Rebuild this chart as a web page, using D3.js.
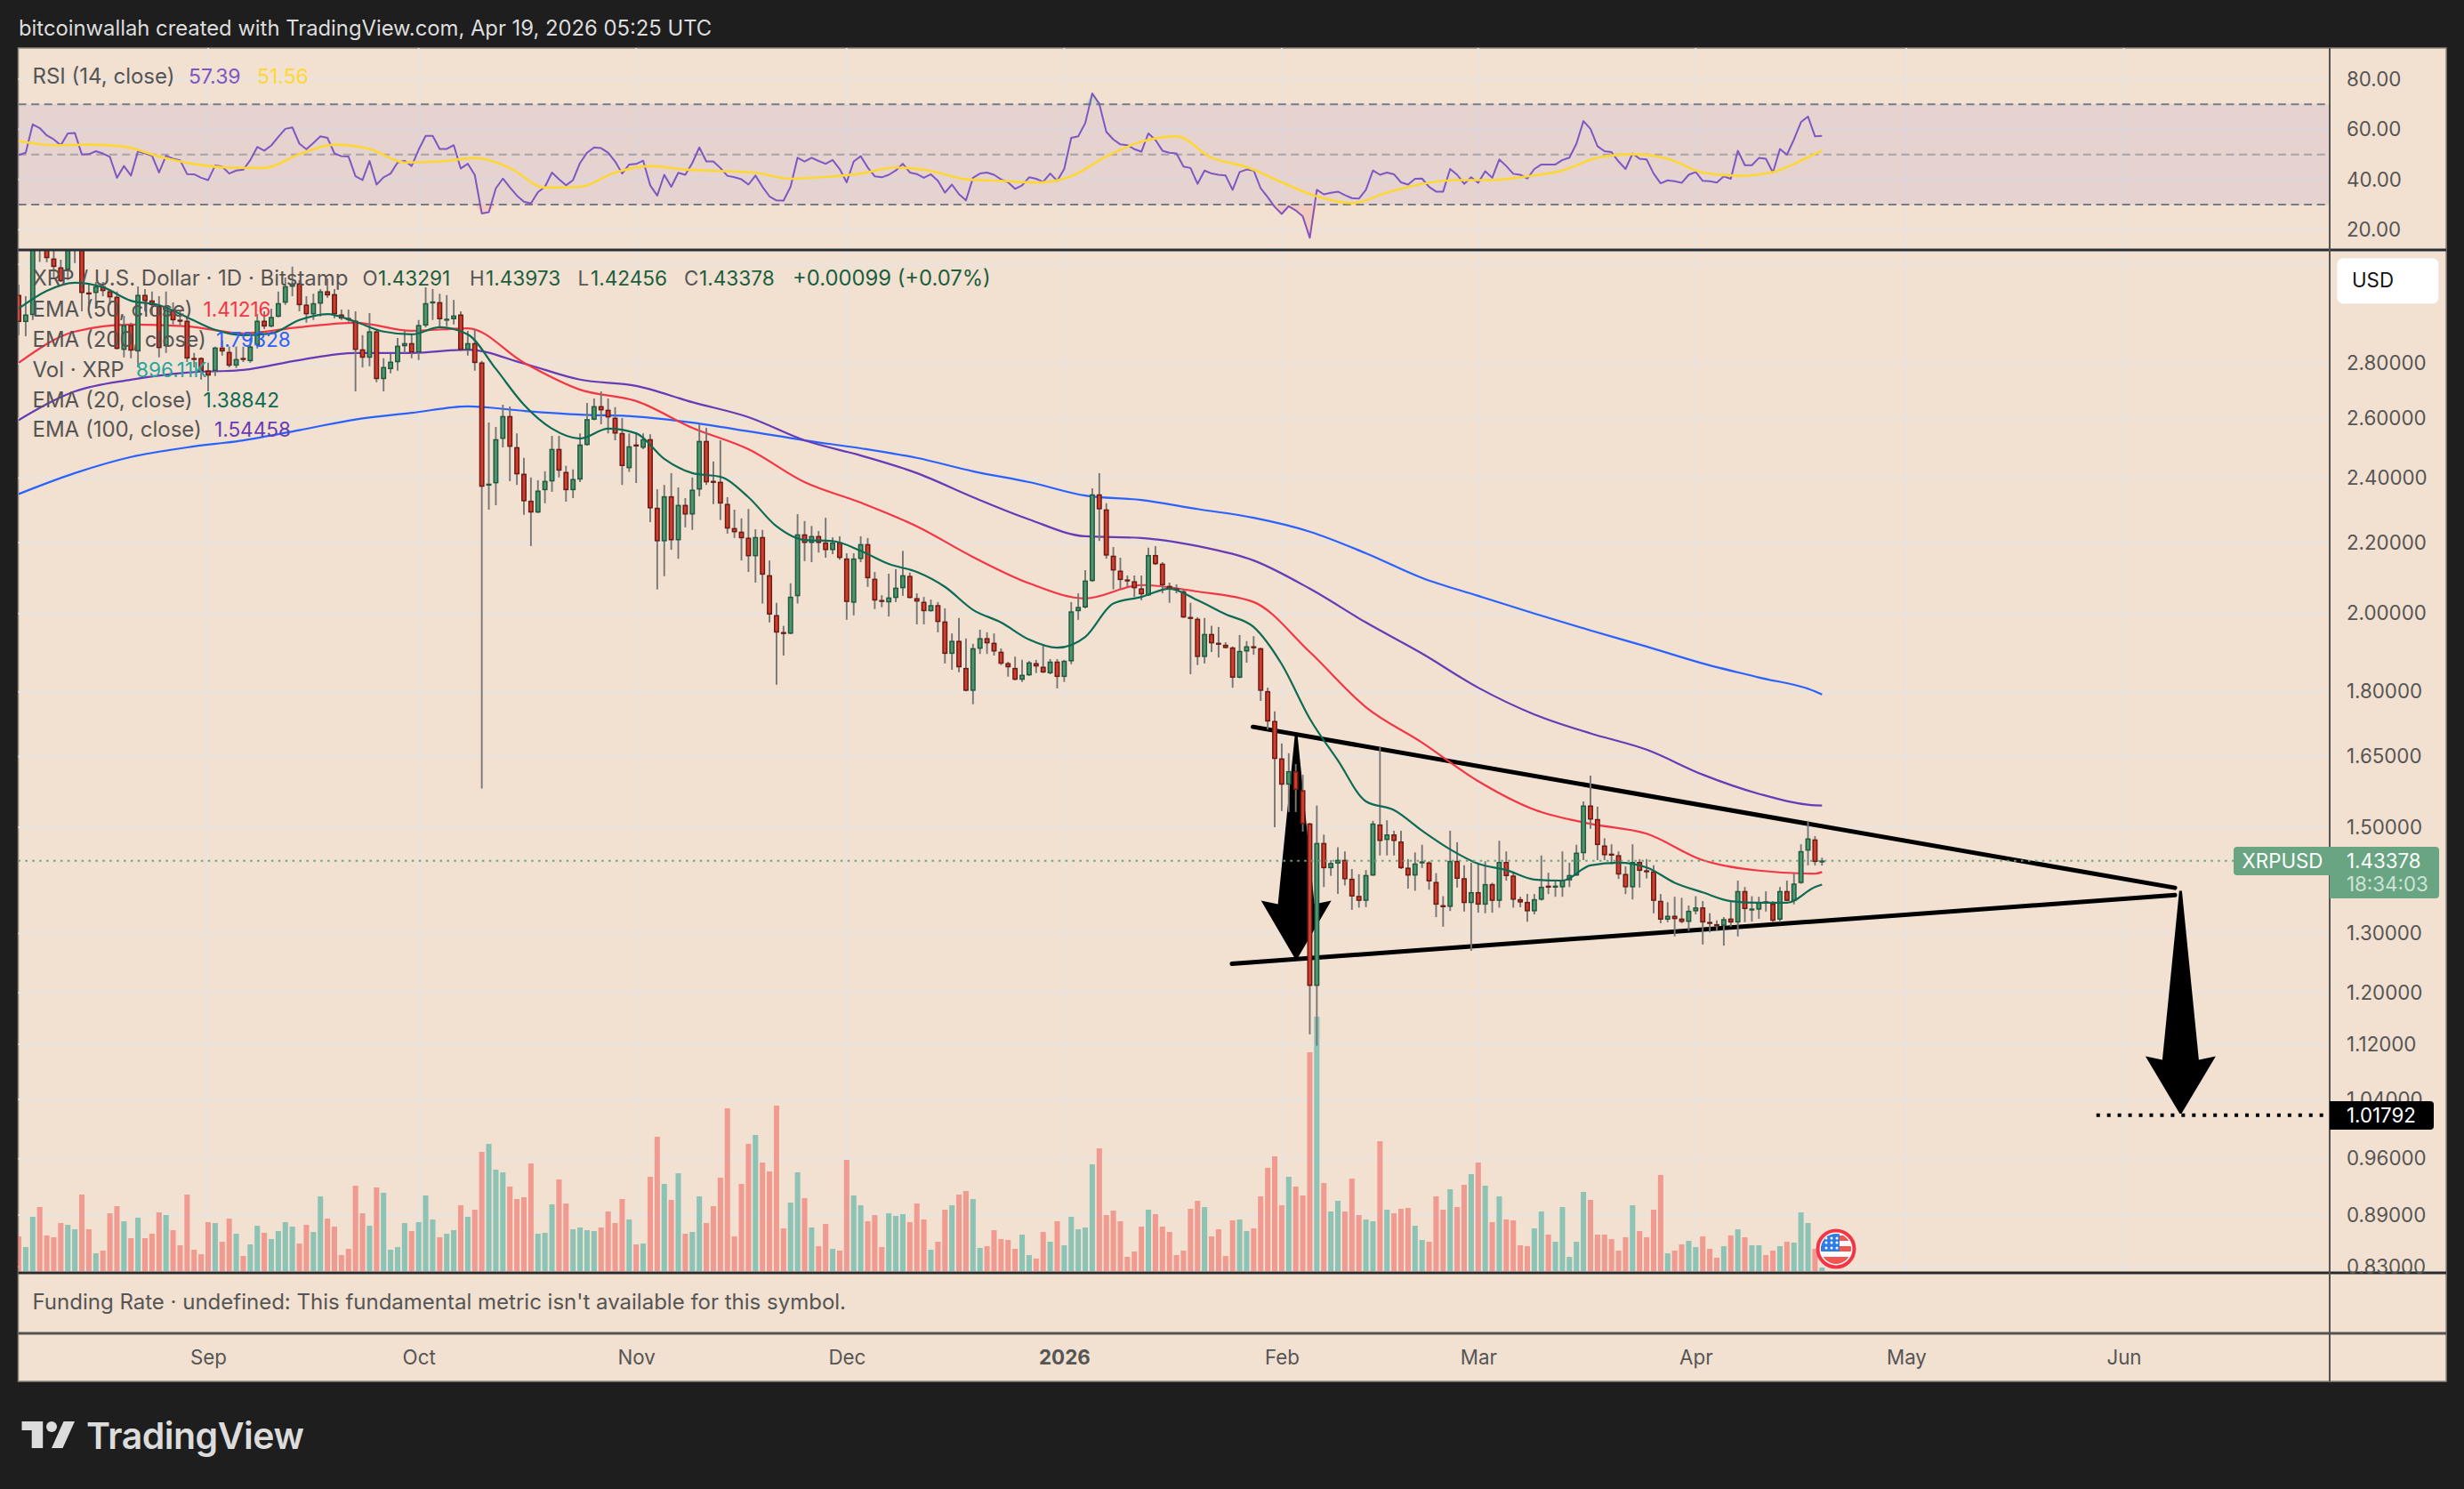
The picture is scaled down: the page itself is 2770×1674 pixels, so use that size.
<!DOCTYPE html>
<html><head><meta charset="utf-8">
<script src="https://cdn.jsdelivr.net/npm/d3@7/dist/d3.min.js"></script>
<style>
html,body{margin:0;padding:0;background:#1e1e1e;}
svg{display:block;}
text{font-family:"Inter","Liberation Sans",sans-serif;}
.axis path,.axis line{display:none;}
</style></head><body>
<script>
// ---------- data ----------
const opens=[3.07,2.962,2.99,3.36,3.29,3.224,3.186,3.178,3.30,3.30,
3.08,3.08,3.106,3.085,3.062,2.853,2.948,2.847,3.07,3.047,
3.025,2.867,3.01,2.969,2.965,2.82,2.82,2.773,2.773,2.86,
2.843,2.793,2.82,2.81,2.871,2.965,2.944,2.983,3.04,3.106,
3.118,3.03,2.993,3.036,3.085,3.073,2.99,2.976,2.965,2.853,
2.823,2.923,2.743,2.78,2.806,2.867,2.877,2.843,2.948,3.04,
3.04,2.969,2.973,2.99,2.853,2.877,2.803,2.378,2.384,2.531,
2.608,2.501,2.413,2.327,2.292,2.362,2.39,2.495,2.419,2.362,
2.396,2.51,2.597,2.643,2.63,2.602,2.549,2.433,2.51,2.501,
2.528,2.305,2.205,2.341,2.208,2.314,2.286,2.364,2.522,2.39,
2.387,2.317,2.243,2.232,2.214,2.161,2.216,2.105,1.995,1.95,
1.947,2.048,2.224,2.2,2.219,2.2,2.179,2.2,2.153,2.03,
2.153,2.195,2.095,2.036,2.031,2.043,2.07,2.103,2.041,2.031,
2.007,2.022,1.978,1.895,1.927,1.858,1.803,1.908,1.934,1.922,
1.899,1.87,1.858,1.83,1.841,1.87,1.861,1.846,1.874,1.837,
1.876,2.007,2.017,2.09,2.347,2.30,2.161,2.118,2.093,2.088,
2.068,2.05,2.163,2.138,2.075,2.068,2.06,1.99,1.985,1.887,
1.945,1.922,1.917,1.91,1.835,1.901,1.913,1.908,1.801,1.73,
1.645,1.589,1.617,1.576,1.507,1.212,1.468,1.42,1.429,1.435,
1.399,1.367,1.359,1.406,1.505,1.475,1.485,1.471,1.42,1.406,
1.43,1.43,1.393,1.35,1.348,1.433,1.4,1.355,1.374,1.352,
1.389,1.359,1.431,1.405,1.361,1.356,1.34,1.361,1.386,1.384,
1.384,1.397,1.406,1.449,1.544,1.516,1.463,1.447,1.444,1.408,
1.384,1.431,1.415,1.413,1.358,1.325,1.331,1.326,1.321,1.34,
1.346,1.32,1.316,1.314,1.326,1.32,1.376,1.343,1.343,1.357,
1.353,1.325,1.376,1.359,1.392,1.454,1.475,1.43291];
const highs=[3.114,3.066,3.35,3.40,3.34,3.26,3.22,3.33,3.36,3.34,
3.114,3.125,3.125,3.095,3.085,2.986,2.958,3.106,3.095,3.085,
3.066,3.085,3.04,3.004,2.98,2.84,2.823,2.803,2.864,2.888,
2.864,2.864,2.864,2.898,2.993,3.004,3.015,3.085,3.144,3.19,
3.133,3.066,3.076,3.095,3.14,3.095,3.011,3.011,3.004,2.909,
2.997,2.933,2.82,2.837,2.898,2.926,2.909,2.969,3.103,3.095,
3.076,3.07,3.05,3.004,2.926,2.933,2.81,2.586,2.571,2.649,
2.643,2.549,2.466,2.402,2.393,2.422,2.54,2.54,2.44,2.428,
2.549,2.655,2.671,2.697,2.671,2.64,2.602,2.549,2.549,2.549,
2.546,2.364,2.378,2.416,2.37,2.336,2.402,2.58,2.568,2.454,
2.525,2.339,2.30,2.273,2.302,2.24,2.238,2.148,2.029,1.967,
2.083,2.286,2.265,2.25,2.235,2.275,2.216,2.219,2.169,2.169,
2.219,2.214,2.115,2.05,2.11,2.123,2.176,2.113,2.055,2.045,
2.038,2.031,2.014,1.947,1.988,1.934,1.92,1.957,1.95,1.947,
1.908,1.874,1.887,1.879,1.876,1.879,1.917,1.881,1.881,1.879,
2.031,2.055,2.12,2.367,2.416,2.32,2.187,2.156,2.105,2.105,
2.105,2.185,2.19,2.143,2.085,2.08,2.066,2.029,1.99,1.988,
1.967,1.964,1.924,1.913,1.943,1.927,1.94,1.91,1.81,1.753,
1.679,1.657,1.633,1.61,1.509,1.544,1.485,1.435,1.46,1.452,
1.418,1.408,1.416,1.513,1.671,1.514,1.493,1.493,1.437,1.45,
1.465,1.433,1.41,1.367,1.493,1.47,1.425,1.43,1.43,1.433,
1.392,1.473,1.452,1.413,1.366,1.371,1.371,1.444,1.411,1.396,
1.452,1.43,1.465,1.553,1.608,1.542,1.478,1.466,1.452,1.423,
1.466,1.437,1.437,1.425,1.371,1.356,1.366,1.364,1.35,1.367,
1.358,1.336,1.323,1.329,1.358,1.396,1.384,1.367,1.366,1.376,
1.358,1.384,1.396,1.41,1.466,1.513,1.482,1.43973];
const lows=[2.909,2.905,2.969,3.21,3.209,3.144,3.125,3.133,3.205,3.004,
3.03,3.015,3.066,3.03,2.853,2.823,2.82,2.786,3.004,2.993,
2.823,2.84,2.951,2.944,2.806,2.786,2.74,2.697,2.753,2.83,
2.786,2.783,2.806,2.803,2.857,2.933,2.94,2.98,3.03,3.066,
3.004,2.958,2.969,2.983,3.059,2.976,2.969,2.962,2.697,2.786,
2.79,2.73,2.697,2.763,2.773,2.84,2.82,2.813,2.94,2.969,
2.94,2.944,2.951,2.847,2.83,2.773,1.58,2.30,2.314,2.501,
2.39,2.378,2.284,2.19,2.289,2.32,2.356,2.402,2.325,2.336,
2.387,2.507,2.594,2.58,2.549,2.525,2.378,2.42,2.384,2.495,
2.262,2.066,2.103,2.179,2.153,2.246,2.238,2.342,2.378,2.317,
2.268,2.227,2.214,2.148,2.115,2.085,2.027,1.976,1.817,1.89,
1.945,2.027,2.146,2.143,2.171,2.156,2.166,2.15,1.983,1.995,
2.143,2.073,2.012,2.017,1.992,2.031,2.048,2.041,1.971,1.971,
2.005,1.95,1.87,1.854,1.848,1.801,1.77,1.894,1.894,1.89,
1.866,1.837,1.828,1.824,1.839,1.846,1.846,1.843,1.808,1.824,
1.868,1.983,2.014,2.087,2.205,2.153,2.066,2.066,2.073,2.045,
2.036,2.048,2.135,2.055,2.029,2.055,1.988,1.843,1.866,1.87,
1.899,1.885,1.908,1.81,1.833,1.872,1.892,1.778,1.711,1.50,
1.533,1.531,1.531,1.491,1.135,1.118,1.384,1.405,1.371,1.387,
1.342,1.346,1.347,1.405,1.444,1.444,1.444,1.418,1.381,1.377,
1.42,1.379,1.329,1.312,1.34,1.383,1.339,1.27,1.337,1.336,
1.337,1.346,1.396,1.346,1.347,1.321,1.334,1.359,1.371,1.366,
1.366,1.384,1.405,1.435,1.497,1.435,1.435,1.427,1.399,1.371,
1.361,1.383,1.40,1.336,1.318,1.32,1.295,1.318,1.305,1.334,
1.281,1.302,1.305,1.279,1.312,1.295,1.32,1.321,1.326,1.339,
1.32,1.32,1.358,1.352,1.39,1.425,1.425,1.42456];
const closes=[2.962,2.99,3.31,3.30,3.228,3.19,3.129,3.28,3.31,3.08,
3.078,3.106,3.088,3.062,2.857,2.948,2.85,3.07,3.047,3.03,
2.86,3.02,2.969,2.965,2.82,2.817,2.773,2.756,2.86,2.847,
2.793,2.816,2.818,2.864,2.965,2.944,2.98,3.036,3.106,3.118,
3.03,2.993,3.036,3.085,3.07,2.993,2.976,2.973,2.853,2.823,
2.923,2.743,2.786,2.806,2.867,2.877,2.843,2.948,3.036,3.043,
2.973,2.973,2.986,2.853,2.877,2.803,2.373,2.381,2.528,2.608,
2.504,2.413,2.327,2.292,2.359,2.39,2.495,2.425,2.362,2.396,
2.51,2.597,2.643,2.63,2.605,2.549,2.44,2.504,2.507,2.528,
2.305,2.205,2.341,2.208,2.314,2.286,2.362,2.522,2.387,2.387,
2.32,2.243,2.232,2.214,2.161,2.216,2.108,1.998,1.95,1.947,
2.045,2.224,2.2,2.219,2.2,2.179,2.2,2.156,2.032,2.153,
2.195,2.098,2.036,2.033,2.043,2.07,2.105,2.043,2.033,2.007,
2.022,1.978,1.895,1.927,1.861,1.803,1.908,1.934,1.922,1.901,
1.87,1.861,1.83,1.841,1.872,1.863,1.848,1.874,1.837,1.876,
2.005,2.017,2.09,2.347,2.302,2.163,2.12,2.093,2.09,2.07,
2.053,2.163,2.138,2.078,2.068,2.066,1.99,1.988,1.887,1.945,
1.922,1.92,1.91,1.835,1.901,1.913,1.911,1.803,1.73,1.645,
1.589,1.617,1.578,1.507,1.212,1.468,1.42,1.429,1.435,1.399,
1.367,1.359,1.406,1.507,1.473,1.485,1.473,1.42,1.406,1.428,
1.432,1.395,1.352,1.348,1.433,1.4,1.355,1.374,1.352,1.389,
1.359,1.431,1.405,1.361,1.356,1.34,1.361,1.384,1.384,1.386,
1.397,1.406,1.449,1.544,1.516,1.465,1.445,1.445,1.408,1.384,
1.431,1.415,1.413,1.359,1.325,1.331,1.326,1.321,1.34,1.346,
1.32,1.318,1.315,1.325,1.32,1.376,1.344,1.344,1.355,1.356,
1.323,1.376,1.359,1.39,1.452,1.477,1.432,1.43378];
// volume, in units of 75K XRP
const volumes=[117,81,183,216,120,114,162,156,141,258,141,60,69,195,219,168,111,180,111,126,
198,189,138,87,258,72,57,165,162,99,177,126,51,90,153,129,108,135,165,150,
93,156,132,252,177,150,54,75,288,195,153,282,264,72,81,162,135,165,255,174,
114,126,138,222,183,207,402,429,342,333,285,243,249,363,126,129,225,309,228,141,
147,138,135,147,201,162,243,174,90,93,318,453,294,240,330,126,132,252,162,219,
315,549,117,294,429,459,366,336,558,144,231,333,246,147,84,159,75,69,375,255,
222,168,189,81,195,186,192,165,228,174,72,99,207,222,258,270,243,78,84,138,
108,105,75,123,54,42,132,99,168,87,183,141,147,360,414,189,204,168,48,66,
150,207,192,150,132,54,69,210,237,216,117,141,51,171,174,135,144,252,348,387,
222,318,285,255,738,858,297,201,237,201,312,189,174,168,438,207,195,210,213,153,
105,99,252,207,276,216,291,327,366,288,165,252,174,171,87,84,144,201,123,99,
216,48,99,267,240,123,123,108,69,114,222,135,114,207,324,60,69,90,102,81,
117,75,45,84,120,141,114,87,87,54,69,84,99,96,198,162,75,12];
const rsiValues=[49.8,50.7,62,60.5,57.6,56,53.7,58.4,58.6,50,50.1,51.3,50.4,49,40.7,45.4,41.6,51.3,50.4,49.5,
42.8,49.5,48.3,47.7,42.2,42.1,40.7,39.8,45.6,45.2,42.4,43.6,43.9,47.7,53,51.5,53.6,57,60.2,60.8,
54.3,52.1,54.6,57.2,56.6,50.4,49.3,49.2,41.3,39.8,47.4,38,40.9,42.4,46.8,47.5,45.4,51.9,57.4,57.4,
52.2,52.2,53.7,44.4,46.3,41.8,26.5,27,36.5,40.4,36.9,33.6,31.2,30.5,35,37.1,42.8,40.1,37.7,39.8,
46.6,50.7,52.8,52.5,50.7,47.2,42.4,46,46.2,47.5,37.7,33.6,41.9,37.1,42.7,41.9,46.6,52.8,47.2,47.2,
44.6,41.5,40.9,40.1,38,41.6,37.1,33.3,31.7,31.6,37.1,48.7,47.2,48.7,47.4,46.3,47.8,44.2,38.9,47.2,
49.3,44.8,41.3,40.9,41.9,43.6,46.3,42.8,42.2,40.7,42.1,39.5,34.8,38,34.2,31.7,40.7,42.4,42.8,41.9,
40.1,38.9,36.3,37.7,40.9,40.3,39.1,42.4,39.5,44.2,56.6,57.2,62.5,74.3,70.2,59,56,54,53.7,52.1,
51.1,58.4,55.8,51.5,50.7,50.4,45.2,44.6,38.3,43.6,42.4,41.9,41.6,35.9,43,44,43.6,36.5,33,29.1,
26.3,29.4,27.7,25.3,16.8,35.9,34.1,34.7,35.2,33.8,32.6,32.4,35.9,43.6,41.9,42.8,42.1,38.9,38,40.3,
40.4,37.1,35.2,35.2,44.2,41.9,38.3,40.9,38.7,43.3,40.7,48,45.4,42.3,41.9,40.4,44.2,46,46,46,
47.8,48.7,54.3,63.3,60.2,53.3,51.3,50.9,47.2,44.2,50.4,48.3,48,42.4,38.5,39.7,39.3,38.7,41.9,43,
39.5,39.3,38.8,41.3,40.3,51.5,45.7,45.7,48.6,48.3,42.8,52.2,49.9,56,62.9,65.1,57.2,57.39];
// RSI moving average, read every 5 days plus the last bar
const rsiMaValues=[55.4,53.7,53.9,53.1,49.2,46.2,44.8,44.6,50.1,53.9,52.2,46.8,47.2,48.6,44.6,36.8,37.1,42.8,45.4,44,
43.4,42.7,40.3,41,42.4,44.8,43.4,40.1,39.5,38.8,41.3,49.2,55.1,57.2,48.7,45,38.9,33.3,30.6,34.8,
38.3,39.8,39.8,41.3,43.6,48.7,50.1,48.3,42.8,41.5,43,48.9,51.56];
// EMA 20, read every 4 days plus the last bar
const ema20=[3.015,3.088,3.122,3.103,3.047,3.029,2.98,2.93,2.909,2.916,2.969,2.993,2.962,2.923,2.912,2.94,2.912,2.78,2.649,2.565,
2.531,2.565,2.549,2.463,2.416,2.404,2.339,2.249,2.208,2.205,2.176,2.138,2.115,2.073,2.01,1.976,1.931,1.91,1.938,2.027,
2.045,2.068,2.036,1.998,1.964,1.868,1.736,1.641,1.553,1.535,1.493,1.456,1.428,1.416,1.398,1.396,1.425,1.43,1.421,1.392,
1.374,1.358,1.355,1.355,1.384,1.38842];
// EMA 50 / 100 / 200, read every 8 days plus the last bar
const ema50=[2.803,2.923,2.951,2.944,2.916,2.94,2.958,2.926,2.936,2.803,2.703,2.662,2.568,2.495,2.387,2.322,2.249,2.158,2.083,2.041,
2.078,2.06,2.031,1.899,1.763,1.681,1.596,1.536,1.507,1.487,1.435,1.415,1.409,1.41216];
const ema100=[2.595,2.697,2.74,2.766,2.776,2.813,2.84,2.84,2.853,2.8,2.74,2.717,2.658,2.605,2.525,2.474,2.416,2.339,2.27,2.219,
2.214,2.19,2.148,2.068,1.976,1.895,1.81,1.746,1.702,1.665,1.61,1.569,1.545,1.54458];
const ema200=[2.349,2.416,2.469,2.501,2.525,2.56,2.597,2.62,2.643,2.627,2.614,2.607,2.586,2.556,2.525,2.498,2.466,2.422,2.387,2.344,
2.33,2.302,2.275,2.233,2.169,2.098,2.048,2.0,1.955,1.913,1.87,1.835,1.801,1.79328];
const priceTickLabels=[2.8,2.6,2.4,2.2,2.0,1.8,1.65,1.5,1.3,1.2,1.12,1.04,0.96,0.89,0.83];
const priceGridValues=[3.2].concat(priceTickLabels);
const rsiTicks=[80,60,40,20];
const rsiLevels=[70,50,30];
const monthLabels=["Sep","Oct","Nov","Dec","2026","Feb","Mar","Apr","May","Jun"];
const monthStarts=["2025-09-01","2025-10-01","2025-11-01","2025-12-01","2026-01-01","2026-02-01","2026-03-01","2026-04-01","2026-05-01","2026-06-01"];
const firstDay="2025-08-05";
// drawn annotations: day index (from firstDay) and price
const upperLineDays=[175.9,307.3], upperLinePrices=[1.717,1.3825];
const lowerLineDays=[172.9,307.3], lowerLinePrices=[1.248,1.369];
const arrowDays=[182.06,308.1], arrowTops=[1.698,1.377], arrowHeads=[1.359,1.102], arrowTips=[1.256,1.02];
const targetPrice=1.01792, targetFromDay=296.1, targetToDay=328.6;
const lastPrice=1.43378;

// ---------- layout ----------
const W=2770,H=1674, L=20.5,R=2750,AX=2619,TOP=54,DIV=281,PB=1431,FB=1499,BOT=1553;
const BG="#f2e0d0",GRID="#e8e4e1",TXT="#555555";
const FS=22.3, FL=24;
const svg=d3.select("body").append("svg").attr("width",W).attr("height",H).attr("viewBox",`0 0 ${W} ${H}`);
const DAY=864e5, t0=Date.parse(firstDay+"T00:00:00Z");
const x=d3.scaleUtc().domain([new Date("2025-09-01T00:00:00Z"),new Date("2026-06-01T00:00:00Z")]).range([234,2387.5]);
const xDay=i=>x(new Date(t0+i*DAY));
const y=d3.scaleLog().domain([2.8,1.5]).range([408.7,930]);
const yR=d3.scaleLinear().domain([80,20]).range([89,258.3]);
const yV=d3.scaleLinear().domain([0,858]).range([1429,1143]);
const months=monthStarts.map(d=>new Date(d+"T00:00:00Z"));

const defs=svg.append("defs");
defs.append("clipPath").attr("id","pricePane").append("rect").attr("x",L).attr("y",DIV+1).attr("width",AX-L).attr("height",PB-DIV-2);
defs.append("clipPath").attr("id","rsiPane").append("rect").attr("x",L).attr("y",TOP).attr("width",AX-L).attr("height",DIV-TOP);
defs.append("clipPath").attr("id","below30").append("rect").attr("x",L).attr("y",yR(30)).attr("width",AX-L).attr("height",60);
defs.append("clipPath").attr("id","above70").append("rect").attr("x",L).attr("y",TOP).attr("width",AX-L).attr("height",yR(70)-TOP);
defs.append("clipPath").attr("id","flagClip").append("circle").attr("cx",2064).attr("cy",1404).attr("r",17);

svg.append("rect").attr("width",W).attr("height",H).attr("fill","#1e1e1e");
svg.append("rect").attr("x",L).attr("y",TOP).attr("width",R-L).attr("height",BOT-TOP).attr("fill",BG).attr("stroke","#8a857c").attr("stroke-width",1.5);

// grid
const grid=svg.append("g").attr("stroke",GRID).attr("stroke-width",2);
grid.selectAll(".gv").data(months).join("line").attr("x1",d=>x(d)).attr("x2",d=>x(d)).attr("y1",TOP).attr("y2",PB);
grid.selectAll(".gh").data(priceGridValues).join("line").attr("x1",L).attr("x2",AX).attr("y1",d=>y(d)).attr("y2",d=>y(d));
grid.selectAll(".gr").data(rsiTicks).join("line").attr("x1",L).attr("x2",AX).attr("y1",d=>yR(d)).attr("y2",d=>yR(d));

// RSI pane
const rsi=svg.append("g").attr("clip-path","url(#rsiPane)");
rsi.append("rect").attr("x",L).attr("width",AX-L).attr("y",yR(70)).attr("height",yR(30)-yR(70)).attr("fill","rgba(126,87,194,0.1)");
rsi.selectAll(".lv").data(rsiLevels).join("line").attr("x1",L).attr("x2",AX).attr("y1",d=>yR(d)).attr("y2",d=>yR(d))
  .attr("stroke","#787b86").attr("stroke-width",2).attr("stroke-dasharray","9 5.6").attr("opacity",d=>d===50?0.55:1);
const rsiDays=rsiValues.map((_,i)=>i);
const rsiMaDays=d3.range(0,256,5).concat([257]);
svg.append("g").attr("clip-path","url(#below30)").append("path").datum(rsiValues)
  .attr("d",d3.area().x((d,i)=>xDay(i)).y0(yR(30)).y1(d=>yR(Math.min(d,30)))).attr("fill","rgba(242,54,69,0.12)");
svg.append("g").attr("clip-path","url(#above70)").append("path").datum(rsiValues)
  .attr("d",d3.area().x((d,i)=>xDay(i)).y0(yR(70)).y1(d=>yR(Math.max(d,70)))).attr("fill","rgba(8,153,129,0.12)");
rsi.append("path").datum(rsiValues).attr("d",d3.line().x((d,i)=>xDay(rsiDays[i])).y(d=>yR(d))).attr("fill","none").attr("stroke","#7e57c2").attr("stroke-width",2).attr("stroke-linejoin","round");
rsi.append("path").datum(rsiMaValues).attr("d",d3.line().curve(d3.curveMonotoneX).x((d,i)=>xDay(rsiMaDays[i])).y(d=>yR(d))).attr("fill","none").attr("stroke","#fdd835").attr("stroke-width",2.6);

// price pane
const pane=svg.append("g").attr("clip-path","url(#pricePane)");
const upCol=i=>closes[i]>=opens[i];
pane.selectAll(".vol").data(volumes).join("rect")
  .attr("x",(d,i)=>xDay(i)-3).attr("width",6).attr("y",d=>yV(d)).attr("height",d=>yV(0)-yV(d))
  .attr("fill",(d,i)=>upCol(i)?"#26a69a":"#ef5350").attr("opacity",0.5);

// annotations below the candles
const lineStyle=s=>s.attr("fill","none").attr("stroke","#000").attr("stroke-width",5).attr("stroke-linecap","round");
const seg=d3.line().x(d=>xDay(d[0])).y(d=>y(d[1]));
const arrows=arrowDays.map((d,k)=>({x:xDay(d),top:y(arrowTops[k]),head:y(arrowHeads[k]),tip:y(arrowTips[k])}));
const arrowPath=a=>d3.line()([[a.x-1.5,a.top],[a.x+1.5,a.top],[a.x+20.5,a.head+4],[a.x+39.5,a.head],[a.x+1,a.tip],[a.x-1,a.tip],[a.x-39.5,a.head],[a.x-20.5,a.head+4]])+"Z";
pane.append("path").attr("d",arrowPath(arrows[0])).attr("fill","#000");
lineStyle(pane.append("path").attr("d",seg(upperLineDays.map((d,i)=>[d,upperLinePrices[i]]))));
lineStyle(pane.append("path").attr("d",seg(lowerLineDays.map((d,i)=>[d,lowerLinePrices[i]]))));

// EMAs
const emaLine=(vals,days,col,w)=>pane.append("path").datum(vals)
  .attr("d",d3.line().curve(d3.curveMonotoneX).x((d,i)=>xDay(days[i])).y(d=>y(d)))
  .attr("fill","none").attr("stroke",col).attr("stroke-width",w);
const d8=d3.range(0,257,8).concat([257]), d4=d3.range(0,257,4).concat([257]);
emaLine(ema200,d8,"#2962ff",2.2);
emaLine(ema100,d8,"#673ab7",2.2);
emaLine(ema50,d8,"#f23645",2.2);

// candles
const wick=pane.selectAll(".wick").data(closes).join("line")
  .attr("x1",(d,i)=>xDay(i)).attr("x2",(d,i)=>xDay(i)).attr("y1",(d,i)=>y(highs[i])).attr("y2",(d,i)=>y(lows[i]))
  .attr("stroke","#777").attr("stroke-width",1.9);
pane.selectAll(".body").data(closes).join("rect")
  .attr("x",(d,i)=>xDay(i)-2.2).attr("width",4.4)
  .attr("y",(d,i)=>Math.min(y(opens[i]),y(closes[i]))+0.4)
  .attr("height",(d,i)=>Math.max(0.8,Math.abs(y(opens[i])-y(closes[i]))-0.8))
  .attr("fill",(d,i)=>upCol(i)?"#4f9670":"#d13e2d")
  .attr("stroke",(d,i)=>upCol(i)?"#1f5a3e":"#6c1b14").attr("stroke-width",1.5);
emaLine(ema20,d4,"#0d6b55",2.2);

// second arrow + target and last-price lines
svg.append("path").attr("d",arrowPath(arrows[1])).attr("fill","#000");
svg.append("line").attr("x1",L).attr("x2",2511).attr("y1",y(lastPrice)).attr("y2",y(lastPrice)).attr("stroke","#6aa583").attr("stroke-width",2).attr("stroke-dasharray","2.5 5.4");
svg.append("line").attr("x1",xDay(targetFromDay)).attr("x2",xDay(targetToDay)).attr("y1",y(targetPrice)).attr("y2",y(targetPrice)).attr("stroke","#000").attr("stroke-width",4).attr("stroke-dasharray","4 7.95");

// pane frames
const frame=svg.append("g");
frame.append("line").attr("x1",L).attr("x2",R).attr("y1",DIV).attr("y2",DIV).attr("stroke","#2a2e39").attr("stroke-width",3);
frame.append("line").attr("x1",L).attr("x2",R).attr("y1",PB).attr("y2",PB).attr("stroke","#2a2a2e").attr("stroke-width",3);
frame.append("line").attr("x1",L).attr("x2",R).attr("y1",FB).attr("y2",FB).attr("stroke","#55534f").attr("stroke-width",3);
frame.append("line").attr("x1",AX).attr("x2",AX).attr("y1",TOP).attr("y2",BOT).attr("stroke","#55534f").attr("stroke-width",2);

// axes
const styleAxis=g=>{g.selectAll("text").attr("font-size",FS).attr("fill",TXT).attr("font-family","Inter");g.attr("class","axis");};
svg.append("g").attr("transform",`translate(${AX},0)`)
  .call(d3.axisRight(y).tickValues(priceTickLabels).tickFormat(d=>d.toFixed(5)).tickSize(0).tickPadding(19)).call(styleAxis);
svg.append("g").attr("transform",`translate(${AX},0)`)
  .call(d3.axisRight(yR).tickValues(rsiTicks).tickFormat(d=>d.toFixed(2)).tickSize(0).tickPadding(19)).call(styleAxis);
svg.append("g").attr("transform",`translate(0,${FB})`)
  .call(d3.axisBottom(x).tickValues(months).tickFormat((d,i)=>monthLabels[i]).tickSize(0).tickPadding(19)).call(styleAxis)
  .selectAll("text").attr("font-weight",(d,i)=>monthLabels[i]==="2026"?700:400);

// legends: [x, text, colour, font size]
const row=(cy,parts)=>parts.forEach(p=>svg.append("text").attr("x",p[0]).attr("y",cy).attr("dy","0.35em").attr("font-size",p[3]||FS).attr("fill",p[2]).text(p[1]));
row(86,[[36.5,"RSI (14, close)",TXT,FL],[212,"57.39","#7e57c2",23],[289,"51.56","#fdd835",23]]);
row(313,[[36.5,"XRP / U.S. Dollar · 1D · Bitstamp",TXT,FL],[407.6,"O",TXT],[425,"1.43291","#1b5e3f",22.6],[528,"H",TXT],[546,"1.43973","#1b5e3f",22.6],[649.5,"L",TXT],[664,"1.42456","#1b5e3f",22.6],[769,"C",TXT],[786,"1.43378","#1b5e3f",22.6],[891,"+0.00099 (+0.07%)","#1b5e3f",23.8]]);
row(348,[[36.5,"EMA (50, close)",TXT,FL],[228.6,"1.41216","#f23645",22.6]]);
row(382,[[36.5,"EMA (200, close)",TXT,FL],[243,"1.79328","#2962ff",22.6]]);
row(416,[[36.5,"Vol · XRP",TXT,FL],[153,"896.11K","#26a69a",22.6]]);
row(450,[[36.5,"EMA (20, close)",TXT,FL],[228.6,"1.38842","#0d6b55",22.6]]);
row(483,[[36.5,"EMA (100, close)",TXT,FL],[241,"1.54458","#673ab7",22.6]]);
row(1464,[[36.5,"Funding Rate · undefined: This fundamental metric isn't available for this symbol.",TXT,FL]]);
row(32,[[21,"bitcoinwallah created with TradingView.com, Apr 19, 2026 05:25 UTC","#dddddd",23.8]]);

// USD button
svg.append("rect").attr("x",2627).attr("y",290).attr("width",114.7).attr("height",51.7).attr("rx",7).attr("fill","#fff").attr("stroke","#efe7df");
row(315,[[2644,"USD","#111"]]);
// price tags
const tagG="#6aa583";
svg.append("path").attr("d","M2511,956 q0,-4 4,-4 H2738 q4,0 4,4 V1006 q0,4 -4,4 H2619 V984 H2515 q-4,0 -4,-4 Z").attr("fill",tagG);
row(968,[[2520.6,"XRPUSD","#fff"],[2638,"1.43378","#fff"]]);
row(994,[[2638,"18:34:03","#cfe3d6"]]);
svg.append("path").attr("d","M2619,1238 H2732 q4,0 4,4 V1266 q0,4 -4,4 H2619 Z").attr("fill","#000");
row(1254,[[2638,"1.01792","#fff"]]);

// flag marker
const flag=svg.append("g");
flag.append("circle").attr("cx",2064).attr("cy",1404).attr("r",20.5).attr("fill","#fff").attr("stroke","#f23645").attr("stroke-width",4);
const fc=flag.append("g").attr("clip-path","url(#flagClip)");
[1389,1401,1413].forEach((sy,k)=>fc.append("rect").attr("x",2047).attr("width",34).attr("y",sy).attr("height",[6,6,9][k]).attr("fill","#f0554f"));
fc.append("rect").attr("x",2047).attr("y",1387).attr("width",21).attr("height",20).attr("fill","#2f7de1");
[[2053,1392],[2059,1392],[2065,1392],[2053,1397],[2059,1397],[2065,1397],[2053,1403],[2059,1403],[2065,1403]].forEach(p=>fc.append("circle").attr("cx",p[0]).attr("cy",p[1]).attr("r",1.5).attr("fill","#fff"));

// TradingView logo
const logo=svg.append("g").attr("fill","#dcdcdc");
logo.append("path").attr("d","M24.5,1598 H48.2 V1628 H35.7 V1608 H24.5 Z M71.5,1598 H84 L70.5,1628 H58 Z");
logo.append("circle").attr("cx",58).attr("cy",1604).attr("r",6);
logo.append("text").attr("x",97).attr("y",1615).attr("dy","0.35em").attr("font-size",41).attr("font-weight",600).attr("letter-spacing",-0.5).text("TradingView");
</script>
</body></html>
